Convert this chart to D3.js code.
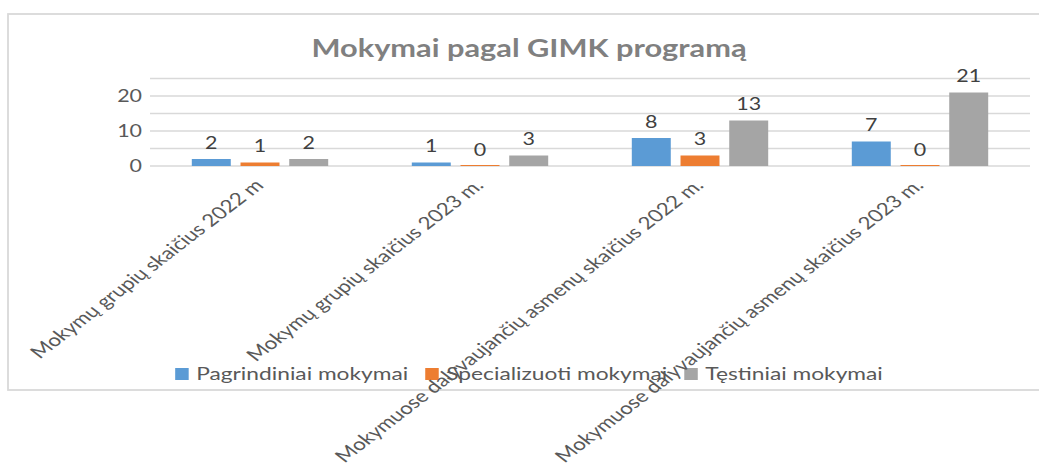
<!DOCTYPE html>
<html><head><meta charset="utf-8">
<script src="https://cdn.jsdelivr.net/npm/d3@7"></script>
<style>html,body{margin:0;padding:0;background:#fff;}svg{display:block;font-family:Lato,"Open Sans",sans-serif;}</style>
</head><body>
<svg id="chart" width="1039" height="468"></svg>
<script>
const title = "Mokymai pagal GIMK programą";
const categories = [
  "Mokymų grupių skaičius 2022 m",
  "Mokymų grupių skaičius 2023 m.",
  "Mokymuose dalyvaujančių asmenų skaičius 2022 m.",
  "Mokymuose dalyvaujančių asmenų skaičius 2023 m."
];
const seriesNames = ["Pagrindiniai mokymai", "Specializuoti mokymai", "Tęstiniai mokymai"];
const pagrindiniai = [2, 1, 8, 7];
const specializuoti = [1, 0, 3, 0];
const testiniai = [2, 3, 13, 21];
const gridTicks = [0, 5, 10, 15, 20, 25];
const labelTicks = [0, 10, 20];
const colors = ["#5b9bd5", "#ed7d31", "#a5a5a5"];

const seriesValues = [pagrindiniai, specializuoti, testiniai];
const S = 1.3; // horizontal text stretch
const svg = d3.select("#chart");

// border
svg.append("rect").attr("x", 8).attr("y", 14).attr("width", 1060).attr("height", 376)
  .attr("fill", "#fff").attr("stroke", "#d9d9d9").attr("stroke-width", 1.8);

const plot = {left: 150, right: 1030, top: 78.5, bottom: 166};
const x0 = d3.scaleBand().domain(categories).range([plot.left, plot.right]).padding(0);
const groupW = x0.bandwidth() * 0.62;
const x1 = d3.scaleBand().domain(seriesNames).range([-groupW / 2, groupW / 2]).paddingInner(0.2);
const y = d3.scaleLinear().domain([0, 25]).range([plot.bottom, plot.top]);

// gridlines
svg.append("g").selectAll("line").data(gridTicks).join("line")
  .attr("x1", plot.left).attr("x2", plot.right)
  .attr("y1", d => y(d)).attr("y2", d => y(d))
  .attr("stroke", "#d9d9d9").attr("stroke-width", 1.4);

// y labels
svg.append("g").selectAll("text").data(labelTicks).join("text")
  .attr("transform", d => `translate(${plot.left - 8},${y(d)}) scale(${S},1)`)
  .attr("dy", "0.36em").attr("text-anchor", "end")
  .attr("font-size", 16.5).attr("fill", "#595959").text(d => d);

// title
svg.append("text").attr("transform", `translate(529,57) scale(1.23,1)`)
  .attr("text-anchor", "middle").attr("font-size", 25).attr("font-weight", "bold")
  .attr("fill", "#808080").text(title);

// bars
const groups = svg.append("g").selectAll("g").data(categories).join("g")
  .attr("transform", d => `translate(${x0(d) + x0.bandwidth() / 2},0)`);
groups.each(function(cat, ci) {
  const g = d3.select(this);
  const rows = seriesNames.map((s, si) => ({s, si, v: seriesValues[si][ci]}));
  g.selectAll("rect").data(rows).join("rect")
    .attr("x", d => x1(d.s)).attr("width", x1.bandwidth())
    .attr("y", d => Math.min(y(d.v), y(0) - 1))
    .attr("height", d => Math.max(y(0) - y(d.v), 1))
    .attr("fill", d => colors[d.si]);
  g.selectAll("text").data(rows).join("text")
    .attr("transform", d => `translate(${x1(d.s) + x1.bandwidth() / 2},${y(d.v) - 10.5}) scale(${S},1)`)
    .attr("text-anchor", "middle").attr("font-size", 16.5).attr("fill", "#404040")
    .text(d => d.v);
});

// legend
const legend = svg.append("g");
const items = legend.selectAll("g").data(seriesNames).join("g");
items.append("rect").attr("width", 13.5).attr("height", 12).attr("y", -6)
  .attr("fill", (d, i) => colors[i]);
items.append("text").attr("transform", `translate(21,0) scale(${S},1)`)
  .attr("dy", "0.36em").attr("font-size", 17.5).attr("fill", "#595959").text(d => d);
let lx = 0;
const offs = [];
items.each(function() {
  offs.push(lx);
  const w = d3.select(this).select("text").node().getComputedTextLength() * S;
  lx += 21 + w + 17;
});
const totalW = lx - 17;
const startX = 529 - totalW / 2;
items.attr("transform", (d, i) => `translate(${startX + offs[i]},374)`);

// x labels
svg.append("g").selectAll("text").data(categories).join("text")
  .attr("transform", d => `translate(${x0(d) + x0.bandwidth() / 2 - 1},182) scale(${S},1) rotate(-45)`)
  .attr("text-anchor", "end").attr("dy", "0.36em")
  .attr("font-size", 17.2).attr("fill", "#595959").text(d => d);
</script>
</body></html>
